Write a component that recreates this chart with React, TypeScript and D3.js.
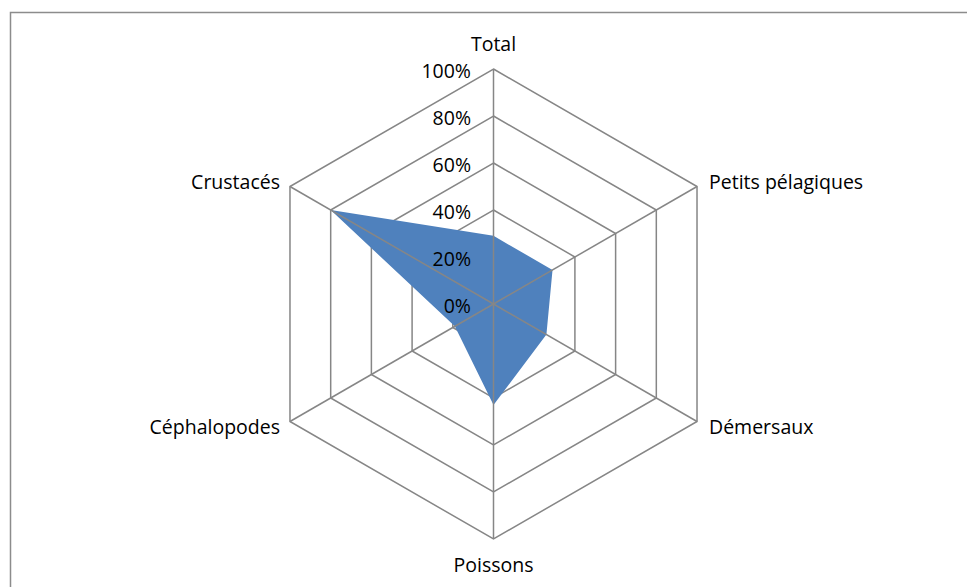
import React, { useRef, useEffect } from 'react';
import * as d3 from 'd3';

const categories = ['Total', 'Petits pélagiques', 'Démersaux', 'Poissons', 'Céphalopodes', 'Crustacés'];
const values = [0.29, 0.29, 0.26, 0.43, 0.19, 0.80];
const ticks = [0, 0.2, 0.4, 0.6, 0.8, 1.0];

const W = 967;
const H = 587;

const App: React.FC = () => {
  const svgRef = useRef<SVGSVGElement | null>(null);

  useEffect(() => {
    const svg = d3.select(svgRef.current);
    svg.selectAll('*').remove();

    const cx = 493.5;
    const cy = 304;
    const font = '"Open Sans", sans-serif';
    const fontSize = '19.5px';

    // outer frame (cut by the window on the right and bottom)
    svg.append('rect')
      .attr('x', 10.5)
      .attr('y', 12.5)
      .attr('width', 1000)
      .attr('height', 700)
      .attr('fill', 'white')
      .attr('stroke', '#8c8c8c')
      .attr('stroke-width', 1.5);

    const r = d3.scaleLinear().domain([0, 1]).range([0, 235]);
    const angle = d3.scaleLinear().domain([0, categories.length]).range([0, 2 * Math.PI]);

    const g = svg.append('g').attr('transform', `translate(${cx},${cy})`);

    const ring = d3.lineRadial<number>()
      .angle((_, i) => angle(i))
      .curve(d3.curveLinearClosed);

    // grid hexagons
    ticks.filter(t => t > 0).forEach(t => {
      g.append('path')
        .attr('d', ring.radius(() => r(t))(categories.map(() => t)))
        .attr('fill', 'none')
        .attr('stroke', '#868686')
        .attr('stroke-width', 1.5);
    });

    // data area
    const area = d3.lineRadial<number>()
      .angle((_, i) => angle(i))
      .radius(d => r(d))
      .curve(d3.curveLinearClosed);

    g.append('path')
      .attr('d', area(values))
      .attr('fill', '#4F81BD');

    // spokes
    categories.forEach((_, i) => {
      const a = angle(i);
      g.append('line')
        .attr('x1', 0)
        .attr('y1', 0)
        .attr('x2', r(1) * Math.sin(a))
        .attr('y2', -r(1) * Math.cos(a))
        .attr('stroke', '#868686')
        .attr('stroke-width', 1.5);
    });

    // tick labels
    ticks.forEach(t => {
      g.append('text')
        .attr('x', -22.5)
        .attr('y', -r(t) + 2)
        .attr('dy', '0.35em')
        .attr('text-anchor', 'end')
        .style('font-family', font)
        .style('font-size', fontSize)
        .attr('fill', '#000')
        .text(`${Math.round(t * 100)}%`);
    });

    // category labels
    categories.forEach((c, i) => {
      const a = angle(i);
      const s = Math.sin(a);
      const co = Math.cos(a);
      const vx = r(1) * s;
      const vy = -r(1) * co;
      let x = vx;
      let y = vy;
      let anchor = 'middle';
      if (Math.abs(s) < 0.01) {
        y = vy + (co > 0 ? -25 : 26);
      } else {
        x = vx + (s > 0 ? 12 : -10);
        y = vy + (co > 0 ? -4.5 : 5.5);
        anchor = s > 0 ? 'start' : 'end';
      }
      g.append('text')
        .attr('x', x)
        .attr('y', y)
        .attr('dy', '0.35em')
        .attr('text-anchor', anchor)
        .style('font-family', font)
        .style('font-size', fontSize)
        .attr('fill', '#000')
        .text(c);
    });
  }, []);

  return (
    <svg
      ref={svgRef}
      width={W}
      height={H}
      style={{ position: 'absolute', left: 0, top: 0, background: 'white' }}
    />
  );
};

export default App;
